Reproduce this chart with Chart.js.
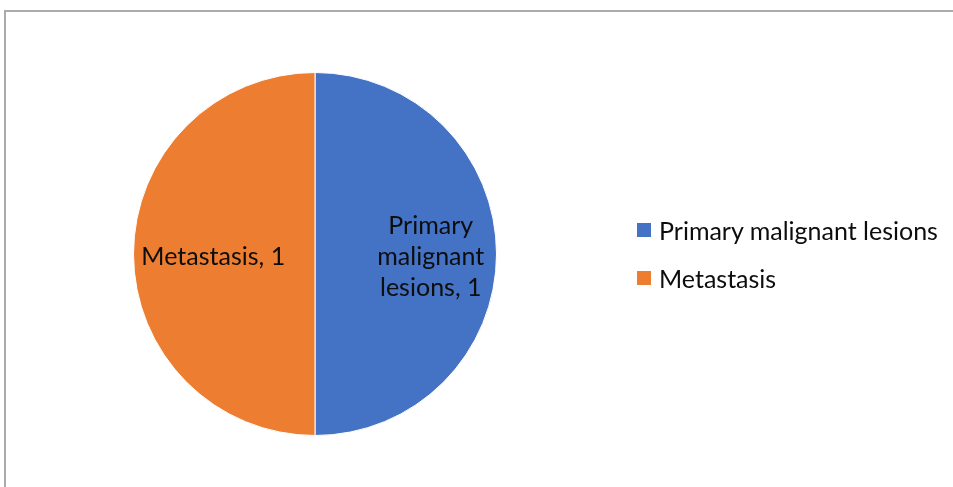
<!DOCTYPE html>
<html>
<head>
<meta charset="utf-8">
<script src="https://cdn.jsdelivr.net/npm/chart.js@4/dist/chart.umd.min.js"></script>
<style>
    html, body { margin: 0; padding: 0; background: #fff; overflow: hidden; }
    body { width: 953px; height: 487px; position: relative; }
    .frame {
        position: absolute; left: 4px; top: 10px; width: 1100px; height: 600px;
        border: 2px solid #ababab; box-sizing: border-box;
    }
    #wrap { position: absolute; left: 0; top: 0; width: 953px; height: 487px; }
    .legend {
        position: absolute; left: 637px; top: 206px;
        font-family: Lato, "Open Sans", sans-serif; font-size: 25px; color: #0d0d0d;
    }
    .legend div { display: flex; align-items: center; height: 48px; }
    .legend span.box { width: 14px; height: 14px; margin-right: 8px; display: inline-block; }
</style>
</head>
<body>
<div class="frame"></div>
<div id="wrap"><canvas id="pieChart"></canvas></div>
<div class="legend" id="legend"></div>
<script>
// 数据
const categories = ['Primary malignant lesions', 'Metastasis'];
const values = [1, 1];
const sliceColors = ['#4472C4', '#ED7D31'];
// 饼内标签换行
const sliceLabelLines = [['Primary', 'malignant', 'lesions, 1'], ['Metastasis, 1']];

// 饼内标签
const sliceLabels = {
    id: 'sliceLabels',
    afterDatasetsDraw(chart) {
        const ctx = chart.ctx;
        const meta = chart.getDatasetMeta(0);
        ctx.save();
        ctx.font = '25px Lato, "Open Sans", sans-serif';
        ctx.fillStyle = '#0d0d0d';
        ctx.textAlign = 'center';
        ctx.textBaseline = 'middle';
        meta.data.forEach((arc, i) => {
            const p = arc.tooltipPosition();
            const lines = sliceLabelLines[i];
            const lh = 31;
            const x = i === 0 ? p.x + 25 : p.x - 11;
            lines.forEach((t, j) => {
                ctx.fillText(t, x, p.y + 3 + (j - (lines.length - 1) / 2) * lh);
            });
        });
        ctx.restore();
    }
};

function createPieChart() {
    const ctx = document.getElementById('pieChart').getContext('2d');
    new Chart(ctx, {
        type: 'pie',
        data: {
            labels: categories,
            datasets: [{
                data: values,
                backgroundColor: sliceColors,
                borderColor: '#ffffff',
                borderWidth: 1
            }]
        },
        options: {
            responsive: true,
            maintainAspectRatio: false,
            animation: false,
            layout: { padding: { left: 133, right: 456, top: 72, bottom: 51 } },
            plugins: {
                legend: { display: false },
                tooltip: { enabled: false }
            }
        },
        plugins: [sliceLabels]
    });
}

function buildLegend() {
    const el = document.getElementById('legend');
    categories.forEach((c, i) => {
        const row = document.createElement('div');
        const box = document.createElement('span');
        box.className = 'box';
        box.style.background = sliceColors[i];
        row.appendChild(box);
        row.appendChild(document.createTextNode(c));
        el.appendChild(row);
    });
}

createPieChart();
buildLegend();
</script>
</body>
</html>
